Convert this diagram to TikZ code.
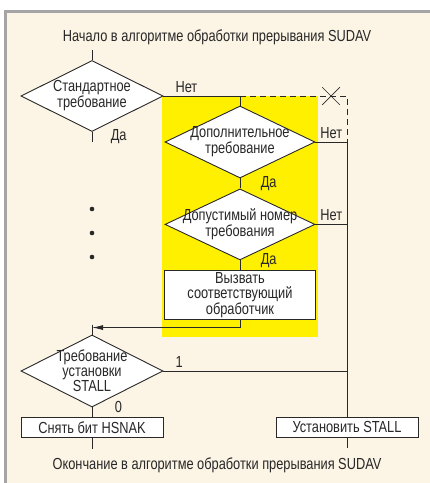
\documentclass[tikz,border=0pt]{standalone}
\usepackage{fontspec}
\setmainfont[FakeStretch=0.8]{Liberation Sans}
\usetikzlibrary{shapes.geometric}
\usetikzlibrary{shapes.misc}
\usetikzlibrary{arrows.meta}
\usetikzlibrary{positioning}
\definecolor{cream}{RGB}{252,244,229}
\definecolor{marker}{RGB}{255,240,0}
\definecolor{frame}{RGB}{165,165,165}
\definecolor{ink}{RGB}{40,40,40}
\tikzstyle{line} = [draw=ink, line width=0.9pt]
\tikzstyle{arrow} = [line, -{Latex[length=11pt, width=5pt]}, to path={-- (\tikztotarget)}]
\tikzstyle{decision} = [diamond, line, fill=white, aspect=2, inner sep=-8pt, align=center]
\tikzstyle{block} = [rectangle, line, fill=white, inner sep=0pt, align=center]

\begin{document}
\begin{tikzpicture}[x=1pt, y=-1pt, font=\fontsize{16}{14.8}\selectfont, text=ink]
            \useasboundingbox (0,0) rectangle (430,483);
            \fill[white] (0,0) rectangle (430,483);
            \fill[cream] (4,10) rectangle (430,483);
            \draw[frame, line width=2.5pt] (5.25,483) -- (5.25,11.25) -- (430,11.25);
            \fill[marker] (162,96) rectangle (318,337);

            \node (start) at (217,37) {Начало в алгоритме обработки прерывания SUDAV};
            \node (std) [decision, minimum width=142pt, minimum height=71pt] at (92,96) {Стандартное\\требование};
            \node (add) [decision, minimum width=150pt, minimum height=72pt] at (240,142) {Дополнительное\\требование};
            \node (valid) [decision, minimum width=150pt, minimum height=71pt, below=10pt of add] {Допустимый номер\\требования};
            \node (call) [block, minimum width=151pt, minimum height=49pt, below=10pt of valid] {Вызвать\\соответствующий\\обработчик};
            \node (stall) [decision, minimum width=142pt, minimum height=72pt] at (92,371) {Требование\\установки\\STALL};
            \node (hsnak) [block, minimum width=142pt, minimum height=20pt, below=10pt of stall] {Снять бит HSNAK};
            \node (setstall) [block, minimum width=142pt, minimum height=20pt] at (347,427) {Установить STALL};
            \node (end) at (217,465) {Окончание в алгоритме обработки прерывания SUDAV};
            \node (cut) [cross out, draw=ink, line width=0.7pt, minimum size=17pt, inner sep=0pt] at (331,96) {};
            \foreach \i/\y in {1/209,2/233,3/257}
                \node (dot\i) [circle, fill=ink, inner sep=0pt, minimum size=4.6pt] at (92,\y) {};

            \coordinate [above=10pt of std] (in);
            \coordinate [below=10pt of std] (more);
            \coordinate (fork) at (add.north |- std.east);
            \coordinate (corner) at (setstall.north |- std.east);
            \coordinate (join) at (setstall.north |- add.east);
            \coordinate [above=7pt of stall] (merge);
            \coordinate [above=10pt of stall] (stub);
            \coordinate [below=11pt of hsnak] (out1);
            \coordinate [below=11pt of setstall] (out2);

            \draw [line] (in) -- (std.north);
            \draw [line] (std.south) -- node[right=15pt]{Да} (more);
            \draw [line] (std.east) -- node[above, pos=0.3]{Нет} (fork) -- (add.north);
            \draw [line, dash pattern=on 6pt off 4pt] (fork) -- (corner) -- (join);
            \draw [line] (add.east) -- node[above]{Нет} (join);
            \draw [line] (join) -- (setstall.north);
            \draw [line] (add.south) -- node[right=17pt]{Да} (valid.north);
            \draw [line] (valid.east) -- node[above]{Нет} (valid.east -| join);
            \draw [line] (valid.south) -- node[right=17pt, pos=0]{Да} (call.north);
            \draw [line] (call.south) -- (call.south |- merge);
            \draw [arrow] (call.south |- merge) to (merge);
            \draw [line] (stub) -- (stall.north);
            \draw [line] (stall.east) -- node[above, pos=0.086]{1} (stall.east -| join);
            \draw [line] (stall.south) -- node[right=19pt, pos=0]{0} (hsnak.north);
            \draw [line] (hsnak.south) -- (out1);
            \draw [line] (setstall.south) -- (out2);
        \end{tikzpicture}
\end{document}
